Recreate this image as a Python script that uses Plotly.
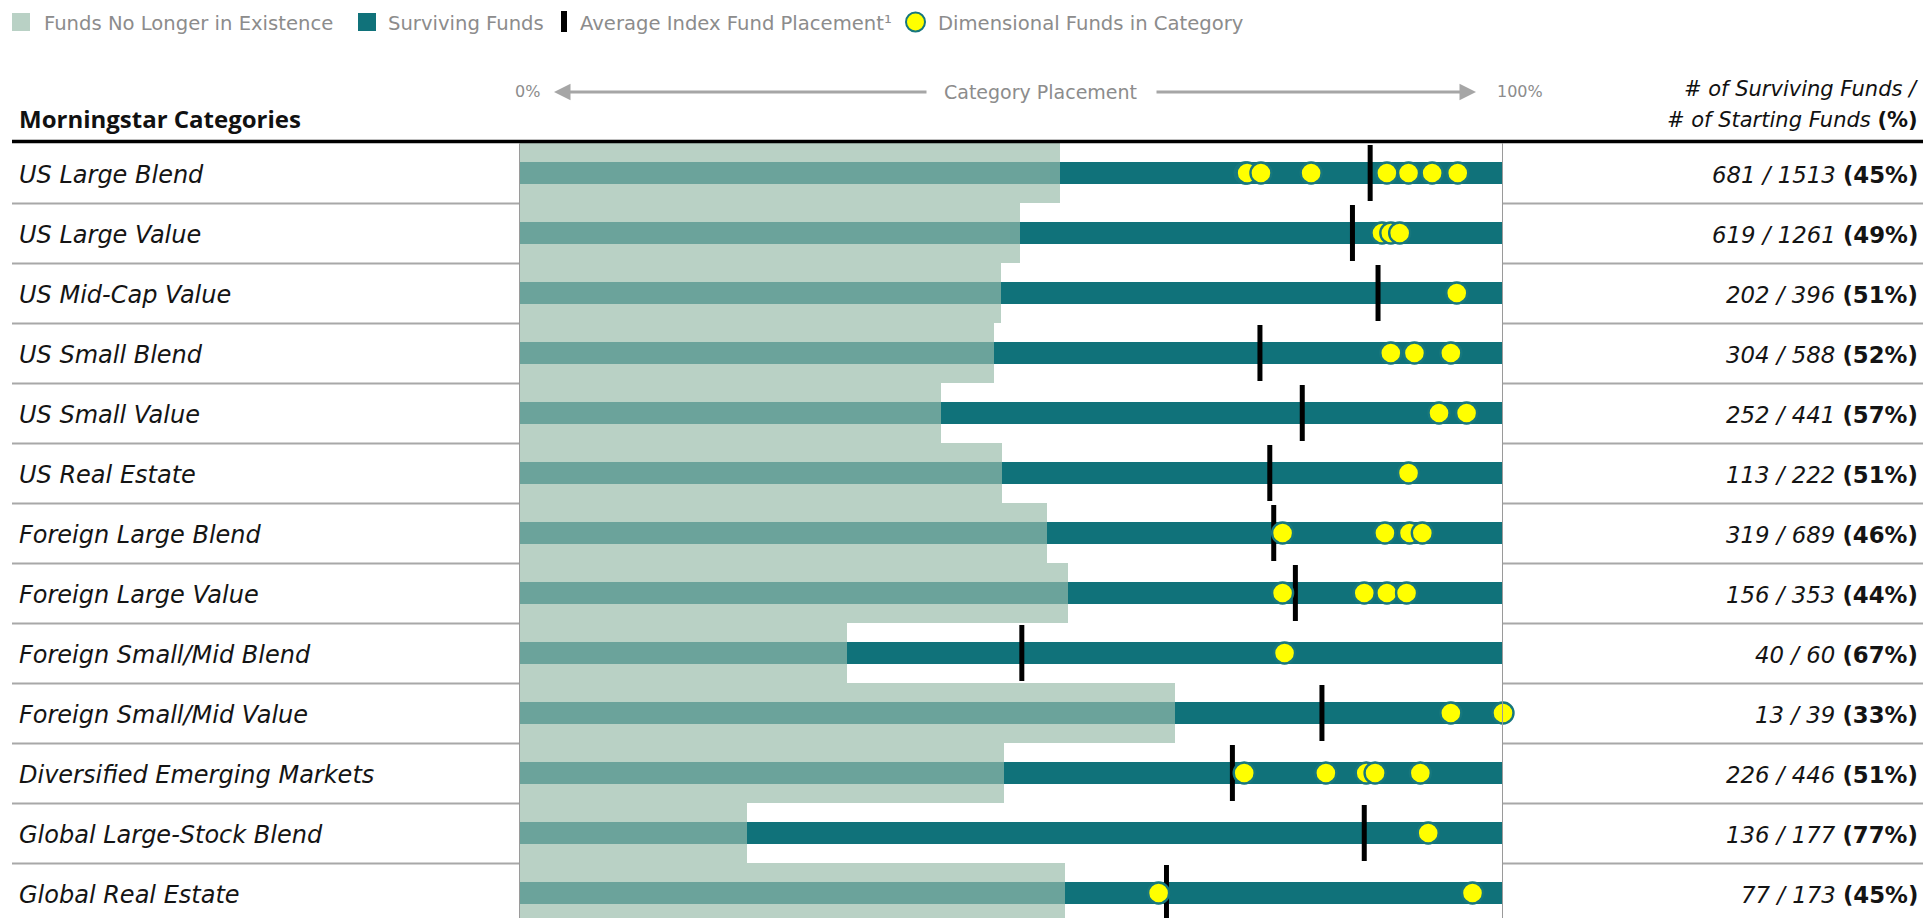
import plotly.graph_objects as go

# ---------------- data ----------------
categories = [
    "US Large Blend", "US Large Value", "US Mid-Cap Value", "US Small Blend",
    "US Small Value", "US Real Estate", "Foreign Large Blend", "Foreign Large Value",
    "Foreign Small/Mid Blend", "Foreign Small/Mid Value", "Diversified Emerging Markets",
    "Global Large-Stock Blend", "Global Real Estate",
]
surviving = [681, 619, 202, 304, 252, 113, 319, 156, 40, 13, 226, 136, 77]
starting = [1513, 1261, 396, 588, 441, 222, 689, 353, 60, 39, 446, 177, 173]
index_placement = [86.5, 84.7, 87.3, 75.3, 79.6, 76.3, 76.7, 78.9, 51.1, 81.6, 72.5, 85.9, 65.8]
dimensional_placement = [
    [73.8, 74.0, 75.4, 80.5, 88.2, 90.4, 92.8, 95.4],
    [87.7, 88.6, 89.5],
    [95.3],
    [88.6, 91.0, 94.7],
    [93.5, 96.3],
    [90.4],
    [77.6, 88.0, 90.5, 91.8],
    [77.6, 85.9, 88.2, 90.2],
    [77.8],
    [94.7, 100.0],
    [73.7, 82.0, 86.1, 87.0, 91.6],
    [92.4],
    [65.0, 96.9],
]

# ---------------- styling ----------------
W, H, T = 1923, 918, 143
ROW = 60
LIGHT = "#B9D1C5"
MID = "#6BA39B"
TEAL = "#10727A"
GRAY_TXT = "#8C8C8C"
FONT = "DejaVu Sans"
BOLDFONT = "Open Sans"


def px(x):
    return x / W


def py(y):
    return (H - y) / (H - T)


n = len(categories)
idx = list(range(n))
surv_pct = [100 * s / st for s, st in zip(surviving, starting)]
dead_pct = [100 - p for p in surv_pct]
band = 22.3 / ROW

fig = go.Figure()
fig.add_trace(go.Bar(x=dead_pct, y=idx, orientation="h", width=1.0,
                     marker=dict(color=LIGHT, line=dict(width=0)), hoverinfo="skip"))
fig.add_trace(go.Bar(x=dead_pct, y=idx, orientation="h", width=band,
                     marker=dict(color=MID, line=dict(width=0)), hoverinfo="skip"))
fig.add_trace(go.Bar(x=surv_pct, base=dead_pct, y=idx, orientation="h", width=band,
                     marker=dict(color=TEAL, line=dict(width=0)), hoverinfo="skip"))
fig.add_trace(go.Scatter(x=index_placement, y=idx, mode="markers",
                         marker=dict(symbol="line-ns", size=40,
                                     line=dict(width=5, color="black")),
                         cliponaxis=False, hoverinfo="skip"))
dx, dy = [], []
for i, vals in enumerate(dimensional_placement):
    for v in vals:
        dx.append(v)
        dy.append(i)
fig.add_trace(go.Scatter(x=dx, y=dy, mode="markers",
                         marker=dict(symbol="circle", size=21, color="#FFFF00",
                                     line=dict(width=2.4, color="#17777E")),
                         cliponaxis=False, hoverinfo="skip"))

shapes = []
annotations = []

# header black line
shapes.append(dict(type="line", xref="paper", yref="paper", x0=px(12), x1=1,
                   y0=py(141.5), y1=py(141.5), line=dict(color="black", width=3.5)))
# row separators (outside plot area)
for i in range(n - 1):
    yy = py(T + ROW * (i + 1) + 0.5)
    shapes.append(dict(type="line", xref="paper", yref="paper", x0=px(12), x1=px(519),
                       y0=yy, y1=yy, line=dict(color="#A8A8A8", width=2)))
    shapes.append(dict(type="line", xref="paper", yref="paper", x0=px(1503), x1=1,
                       y0=yy, y1=yy, line=dict(color="#A8A8A8", width=2)))
# vertical borders at 0% and 100%
for xv in (0, 100):
    shapes.append(dict(type="line", xref="x", yref="paper", x0=xv, x1=xv,
                       y0=0, y1=py(143), line=dict(color="#9A9A9A", width=2), layer="above"))

# row labels and right column
for i, cat in enumerate(categories):
    yc = py(T + ROW * i + 32)
    annotations.append(dict(xref="paper", yref="paper", x=px(17), y=yc, xanchor="left",
                            yanchor="middle", showarrow=False, text=f"<i>{cat}</i>",
                            font=dict(family=FONT, size=24, color="#141414")))
    annotations.append(dict(xref="paper", yref="paper", x=px(1920), y=yc, xanchor="right",
                            yanchor="middle", showarrow=False,
                            text=f"<i>{surviving[i]} / {starting[i]}</i> <b>({round(surv_pct[i])}%)</b>",
                            font=dict(family=FONT, size=22.8, color="#141414")))

# column headers
annotations.append(dict(xref="paper", yref="paper", x=px(17), y=py(119), xanchor="left",
                        yanchor="middle", showarrow=False, text="<b>Morningstar Categories</b>",
                        font=dict(family=BOLDFONT, size=24, color="#111")))
annotations.append(dict(xref="paper", yref="paper", x=px(1920), y=py(89.5), xanchor="right",
                        yanchor="middle", showarrow=False, text="<i># of Surviving Funds /</i>",
                        font=dict(family=FONT, size=21, color="#111")))
annotations.append(dict(xref="paper", yref="paper", x=px(1920), y=py(120.5), xanchor="right",
                        yanchor="middle", showarrow=False,
                        text="<i># of Starting Funds</i> <b>(%)</b>",
                        font=dict(family=FONT, size=21, color="#111")))
annotations.append(dict(xref="paper", yref="paper", x=px(527), y=py(92), xanchor="center",
                        yanchor="middle", showarrow=False, text="0%",
                        font=dict(family=FONT, size=16, color=GRAY_TXT)))
annotations.append(dict(xref="paper", yref="paper", x=px(1520), y=py(92), xanchor="center",
                        yanchor="middle", showarrow=False, text="100%",
                        font=dict(family=FONT, size=16, color=GRAY_TXT)))
annotations.append(dict(xref="paper", yref="paper", x=px(1040), y=py(92), xanchor="center",
                        yanchor="middle", showarrow=False, text="Category Placement",
                        font=dict(family=FONT, size=19, color=GRAY_TXT)))
# arrows
annotations.append(dict(xref="paper", yref="paper", x=px(554), y=py(92), ax=374, ay=0,
                        text="", showarrow=True, arrowhead=2, arrowsize=1.1, arrowwidth=3,
                        arrowcolor="#A6A6A6"))
annotations.append(dict(xref="paper", yref="paper", x=px(1476), y=py(92), ax=-321, ay=0,
                        text="", showarrow=True, arrowhead=2, arrowsize=1.1, arrowwidth=3,
                        arrowcolor="#A6A6A6"))

# legend (manual)
LY = 23
shapes.append(dict(type="rect", xref="paper", yref="paper", x0=px(12), x1=px(30),
                   y0=py(13), y1=py(31), fillcolor=LIGHT, line=dict(width=0)))
shapes.append(dict(type="rect", xref="paper", yref="paper", x0=px(358), x1=px(376),
                   y0=py(13), y1=py(31), fillcolor=TEAL, line=dict(width=0)))
shapes.append(dict(type="rect", xref="paper", yref="paper", x0=px(561), x1=px(567),
                   y0=py(11), y1=py(32), fillcolor="black", line=dict(width=0)))
shapes.append(dict(type="circle", xref="paper", yref="paper", x0=px(906), x1=px(925),
                   y0=py(12.5), y1=py(31.5), fillcolor="#FFFF00",
                   line=dict(width=2, color="#17777E")))
for x0, txt in [(42, "Funds No Longer in Existence"), (386, "Surviving Funds"),
                (578, "Average Index Fund Placement¹"), (936, "Dimensional Funds in Category")]:
    annotations.append(dict(xref="paper", yref="paper", x=px(x0), y=py(LY), xanchor="left",
                            yanchor="middle", showarrow=False, text=txt,
                            font=dict(family=FONT, size=19.6, color=GRAY_TXT)))

fig.update_layout(
    width=W, height=H,
    margin=dict(l=0, r=0, t=T, b=0, pad=0),
    paper_bgcolor="white", plot_bgcolor="white",
    barmode="overlay", bargap=0, showlegend=False,
    xaxis=dict(domain=[px(519), px(1503)], range=[0, 100], showgrid=False,
               zeroline=False, showticklabels=False, ticks="", fixedrange=True),
    yaxis=dict(range=[(H - T) / ROW - 0.5, -0.5], showgrid=False, zeroline=False,
               showticklabels=False, ticks="", fixedrange=True),
    shapes=shapes, annotations=annotations,
)

fig.write_html(
    "out.html",
    config={"displayModeBar": False},
    post_script="document.body.style.margin='0';document.body.style.overflow='hidden';",
)
